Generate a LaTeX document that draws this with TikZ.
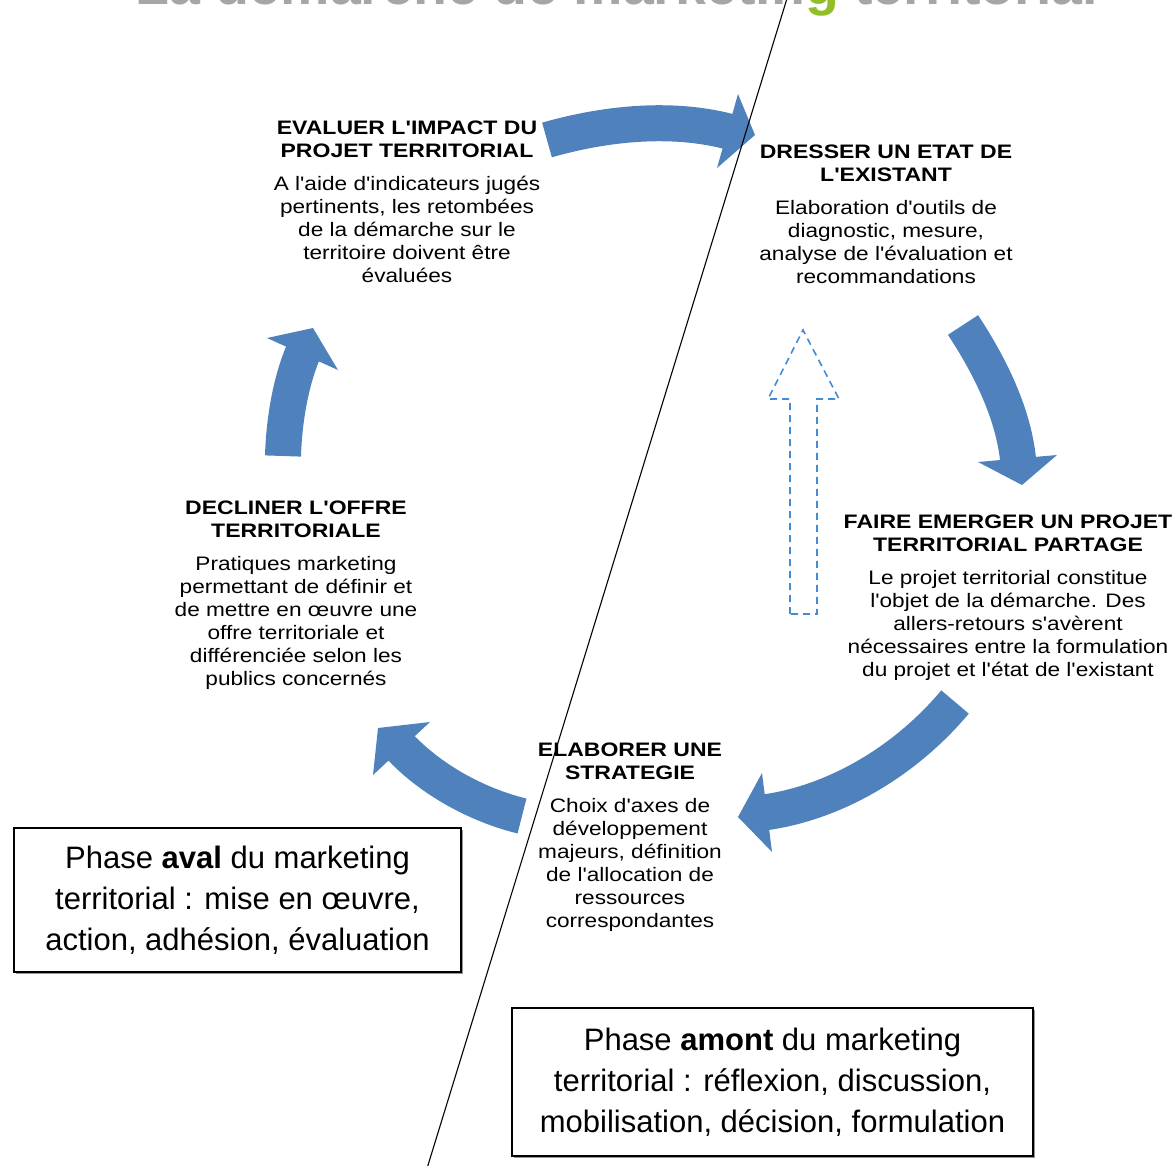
\documentclass[tikz,border=0pt]{standalone}
\usepackage{fontspec}
\setmainfont{Liberation Sans}
\newfontfamily\etapefont[FakeStretch=1.16]{Liberation Sans}
\newfontfamily\entetefont[FakeStretch=1.18]{Liberation Sans}
\newcommand{\entete}[1]{{\entetefont\bfseries #1}}
\usepackage{xcolor}
\usepackage{tikz}
\usetikzlibrary{shadows}

\definecolor{bleucycle}{RGB}{79,129,189}
\definecolor{bleutirets}{RGB}{65,140,210}
\definecolor{vertg}{RGB}{146,190,40}

\begin{document}
\begin{tikzpicture}[x=1pt, y=-1pt,
    etape/.style={anchor=north, inner sep=0pt, align=center, font={\etapefont\fontsize{19.5}{23}\selectfont}},
    phase/.style={draw, fill=white, line width=1.3pt, align=center, font={\fontsize{31}{41}\selectfont},
        drop shadow={shadow xshift=1.5pt, shadow yshift=-1.5pt, opacity=0.7, fill=black!60}},
    fleche/.style={draw=bleucycle, line width=36pt},
    pointe/.style={fill=bleucycle},
    tirets/.style={draw=bleutirets, line width=1.6pt, dash pattern=on 7pt off 5pt}]
    \useasboundingbox (0,0) rectangle (1175,1165);
    \clip (0,0) rectangle (1175,1165);

    % Title (cut at the top)
    \node[anchor=base, inner sep=0pt, text=black!35, font={\bfseries\fontsize{55.5}{60}\selectfont}] (titre) at (617,4)
        {La démarche de marketin{\color{vertg}g} territorial};

    % Cycle arrows
    \coordinate (dep1) at (547,140); \coordinate (fin1) at (734,133);
    \coordinate (dep2) at (963,325); \coordinate (fin2) at (1018.5,464);
    \coordinate (dep3) at (955,702); \coordinate (fin3) at (760,813);
    \coordinate (dep4) at (522,816); \coordinate (fin4) at (399,745.6);
    \coordinate (dep5) at (283,456); \coordinate (fin5) at (304.4,349.5);
    \draw[fleche] (dep1) .. controls (606,123) and (675,116) .. (fin1);
    \fill[pointe] (738,94) -- (755,135) -- (717,168) -- cycle;
    \draw[fleche] (dep2) .. controls (990,366) and (1014.5,415) .. (fin2);
    \fill[pointe] (978,462) -- (1022,485) -- (1057,455) -- cycle;
    \draw[fleche] (dep3) .. controls (906.5,760) and (835,804) .. (fin3);
    \fill[pointe] (762,773) -- (738,817) -- (772,852) -- cycle;
    \draw[fleche] (dep4) .. controls (477,805) and (430.5,779.6) .. (fin4);
    \fill[pointe] (430,722) -- (378,728) -- (373,775) -- cycle;
    \draw[fleche] (dep5) .. controls (284,421.5) and (290.4,381) .. (fin5);
    \fill[pointe] (267,338) -- (313,328) -- (338,370) -- cycle;

    % Dashed arrow
    \draw[tirets] (790,614) -- (790,399) -- (768,399) -- (803,330) -- (839,399) -- (817,399) -- (817,614) -- cycle;

    % Steps
    \node[etape] (evaluer) at (407,121) {\entete{EVALUER L'IMPACT DU}\\\entete{PROJET TERRITORIAL}\\[9.5pt]
        A l'aide d'indicateurs jugés\\pertinents, les retombées\\de la démarche sur le\\territoire doivent être\\évaluées};
    \node[etape] (dresser) at (886,145) {\entete{DRESSER UN ETAT DE}\\\entete{L'EXISTANT}\\[9.5pt]
        Elaboration d'outils de\\diagnostic, mesure,\\analyse de l'évaluation et\\recommandations};
    \node[etape] (faire) at (1008,515) {\entete{FAIRE EMERGER UN PROJET}\\\entete{TERRITORIAL PARTAGE}\\[9.5pt]
        Le projet territorial constitue\\l'objet de la démarche. Des\\allers-retours s'avèrent\\nécessaires entre la formulation\\du projet et l'état de l'existant};
    \node[etape] (elaborer) at (630,743) {\entete{ELABORER UNE}\\\entete{STRATEGIE}\\[9.5pt]
        Choix d'axes de\\développement\\majeurs, définition\\de l'allocation de\\ressources\\correspondantes};
    \node[etape] (decliner) at (296,501) {\entete{DECLINER L'OFFRE}\\\entete{TERRITORIALE}\\[9.5pt]
        Pratiques marketing\\permettant de définir et\\de mettre en œuvre une\\offre territoriale et\\différenciée selon les\\publics concernés};

    % Phases
    \node[phase, minimum width=447pt, minimum height=144pt] (aval) at (237.5,900)
        {Phase \textbf{aval} du marketing\\territorial : mise en œuvre,\\action, adhésion, évaluation};
    \node[phase, minimum width=521pt, minimum height=148pt] (amont) at (772.5,1082)
        {Phase \textbf{amont} du marketing\\territorial : réflexion, discussion,\\mobilisation, décision, formulation};

    % Separation line
    \coordinate (haut) at (789,-8);
    \coordinate (bas) at (425.6,1173);
    \draw[line width=1.1pt] (haut) -- (bas);
\end{tikzpicture}
\end{document}
